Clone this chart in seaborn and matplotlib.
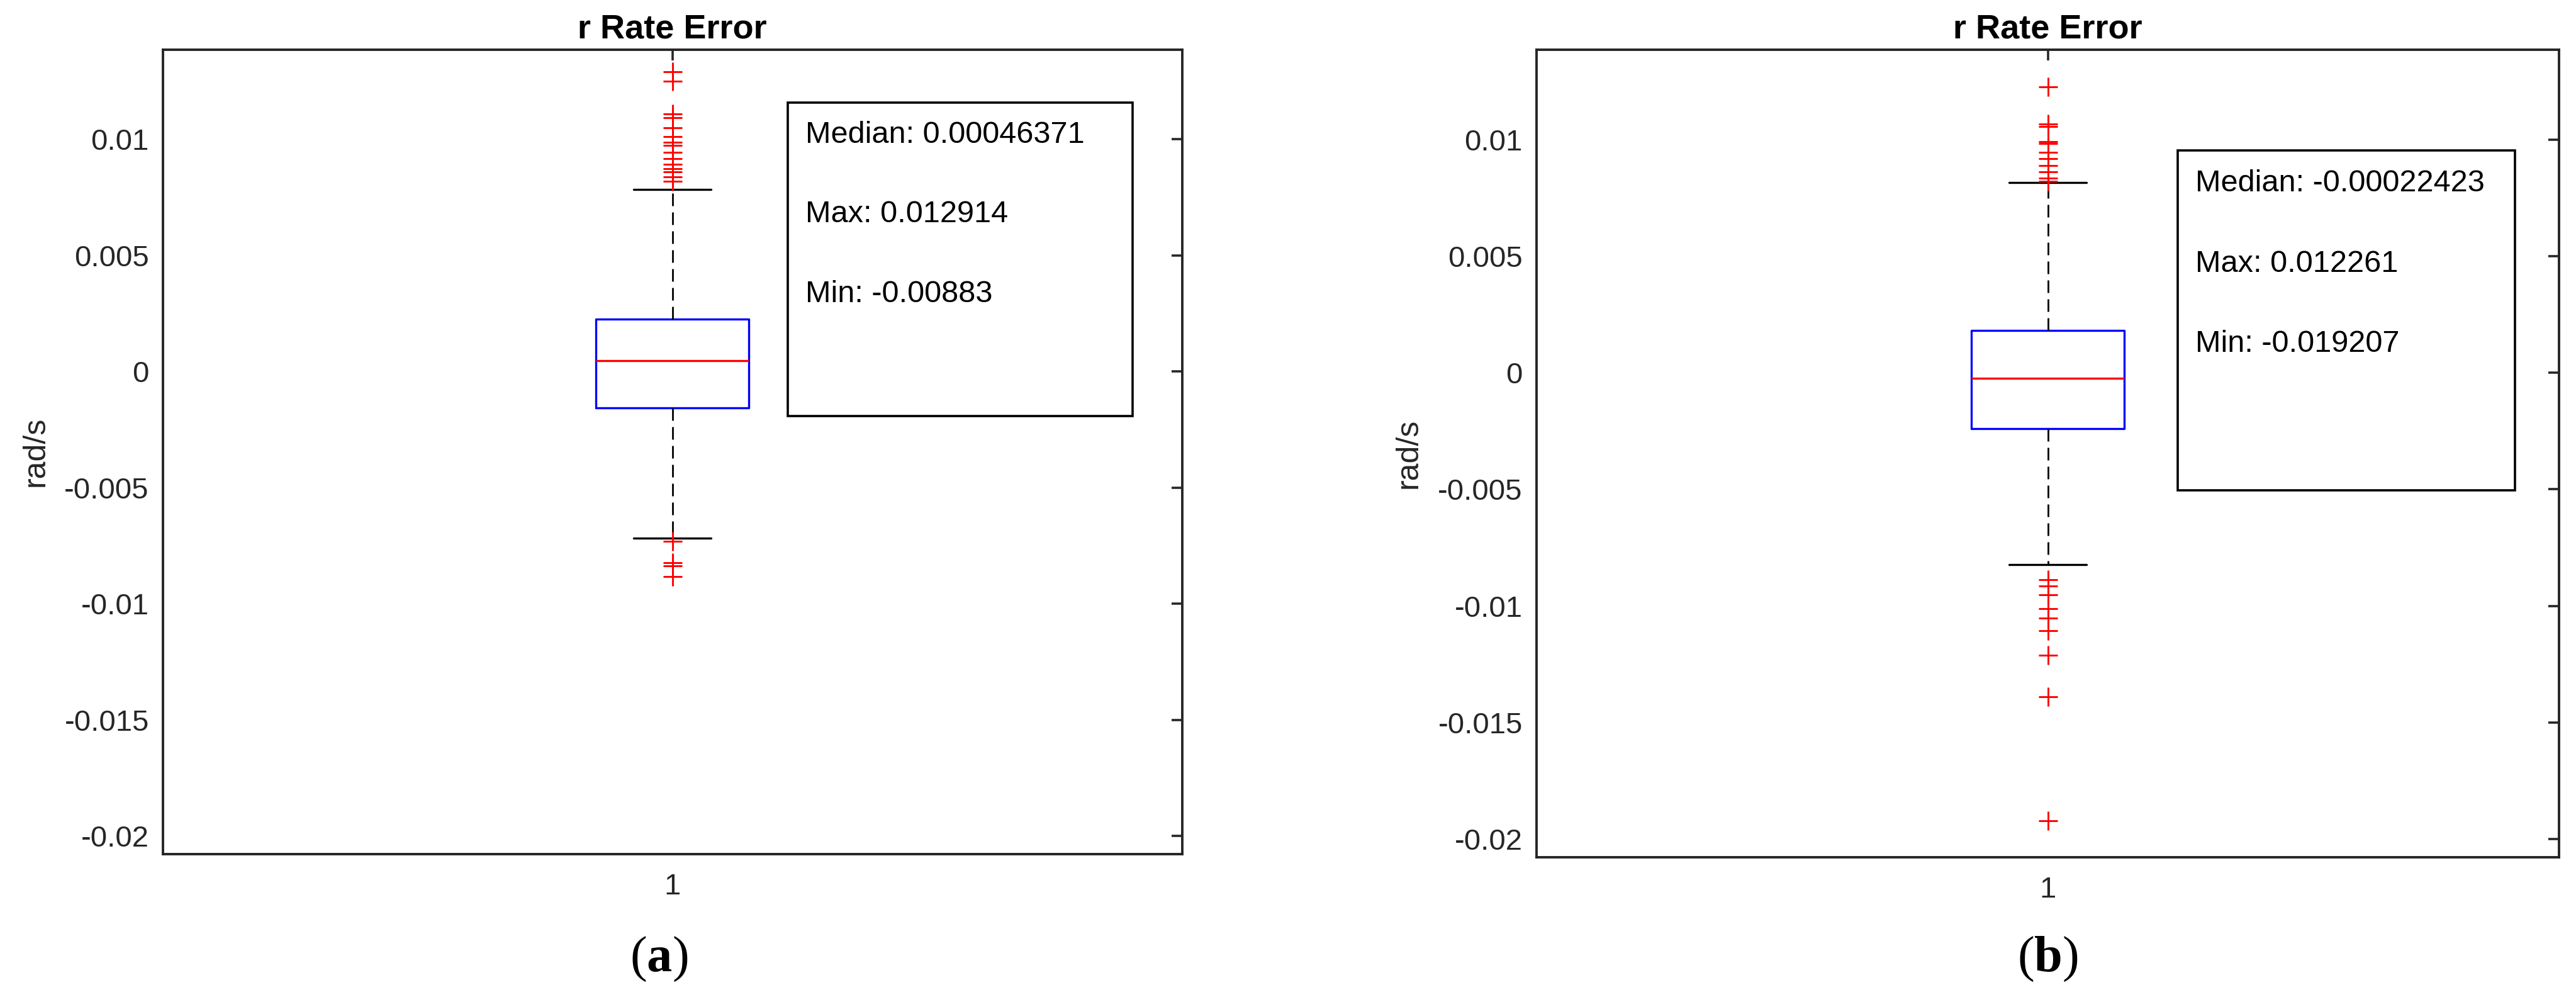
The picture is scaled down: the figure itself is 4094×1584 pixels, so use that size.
import matplotlib
matplotlib.use("Agg")
import matplotlib.pyplot as plt
import seaborn as sns
import numpy as np
from matplotlib.patches import Rectangle

# ---------------- data ----------------
panel_labels = ["a", "b"]
titles = ["r Rate Error", "r Rate Error"]
ylabel_text = "rad/s"
xtick_labels = ["1"]
ytick_values = [-0.02, -0.015, -0.01, -0.005, 0, 0.005, 0.01]
ytick_labels = ["-0.02", "-0.015", "-0.01", "-0.005", "0", "0.005", "0.01"]
ylim = (-0.020772, 0.013854)

medians = [0.00046371, -0.00022423]
q1 = [-0.001563, -0.00240]
q3 = [0.002243, 0.001814]
whisker_low = [-0.007174, -0.008240]
whisker_high = [0.007846, 0.008158]

fliers_a = [0.012914, 0.012508, 0.011080, 0.010927, 0.010502, 0.010105,
            0.009879, 0.009734, 0.009427, 0.009156, 0.008930, 0.008732,
            0.008605, 0.008379, 0.008181,
            -0.007299, -0.008232, -0.008357, -0.00883]
fliers_b = [0.012261, 0.010660, 0.010552, 0.009904, 0.009823, 0.009463,
            0.009175, 0.008887, 0.008608, 0.008338, 0.008221,
            -0.008887, -0.009136, -0.009535, -0.010126, -0.010525,
            -0.011049, -0.012123, -0.013886, -0.019207]
fliers = [fliers_a, fliers_b]

stat_texts = [
    ["Median: 0.00046371", "Max: 0.012914", "Min: -0.00883"],
    ["Median: -0.00022423", "Max: 0.012261", "Min: -0.019207"],
]

# ---------------- style ----------------
sns.set_style("white")
plt.rcParams["font.family"] = ["Liberation Sans", "DejaVu Sans"]
plt.rcParams["axes.unicode_minus"] = False
plt.rcParams["lines.scale_dashes"] = False
plt.rcParams["mathtext.fontset"] = "custom"
plt.rcParams["mathtext.rm"] = "Liberation Serif"
plt.rcParams["mathtext.bf"] = "Liberation Serif:bold"

DPI = 100
W, H = 4094, 1584
fig = plt.figure(figsize=(W / DPI, H / DPI), dpi=DPI)
fig.patch.set_facecolor("white")

# axes rectangles in pixels: (left, top, right, bottom)
ax_px = [(259, 79, 1878.6, 1356.7), (2442, 79, 4067, 1361.7)]
box_px = [(1252, 163, 1800, 661), (3461, 239, 3997, 779)]
text_x_px = [1279.5, 3489]
text_base_px = [[227, 353.4, 480], [304, 431.5, 559]]
label_x_px = [1047, 3254]

axcol = "#262626"

for i in range(2):
    l, t, r, b = ax_px[i]
    ax = fig.add_axes([l / W, 1 - b / H, (r - l) / W, (b - t) / H])
    ax.set_facecolor("white")

    stats = [dict(med=medians[i], q1=q1[i], q3=q3[i],
                  whislo=whisker_low[i], whishi=whisker_high[i], fliers=[])]
    ax.bxp(stats, positions=[1], widths=0.15, showfliers=False,
           capwidths=0.076, manage_ticks=False,
           boxprops=dict(color="blue", lw=2.4),
           medianprops=dict(color="red", lw=2.4),
           whiskerprops=dict(color="black", lw=2.0, linestyle=(0, (14.4, 7.2))),
           capprops=dict(color="black", lw=2.4))

    fl = np.asarray(fliers[i])
    sns.scatterplot(x=np.ones(len(fl)), y=fl, marker="+", color="red",
                    s=497, linewidth=2.1, ax=ax, zorder=5, legend=False)

    ax.set_xlim(0.5, 1.5)
    ax.set_ylim(*ylim)
    ax.set_xticks([1])
    ax.set_xticklabels(xtick_labels)
    ax.set_yticks(ytick_values)
    ax.set_yticklabels(ytick_labels)
    ax.tick_params(axis="both", direction="in", length=12.3, width=2.6,
                   top=True, right=True, labelsize=34, colors=axcol,
                   labelcolor=axcol)
    ax.tick_params(axis="y", pad=16)
    ax.tick_params(axis="x", pad=22)
    for sp in ax.spines.values():
        sp.set_visible(True)
        sp.set_color(axcol)
        sp.set_linewidth(2.8)

    ax.set_xlabel("")
    ax.set_ylabel(ylabel_text, fontsize=36, color=axcol)
    ax.yaxis.set_label_coords(-0.111, 0.5)
    ax.set_title(titles[i], fontsize=39, fontweight="bold", pad=13, color="black")

    # statistics text box
    bl, bt, br, bb = box_px[i]
    aw, ah = r - l, b - t
    rect = Rectangle(((bl - l) / aw, (b - bb) / ah), (br - bl) / aw, (bb - bt) / ah,
                     transform=ax.transAxes, facecolor="white", edgecolor="black",
                     lw=2.6, zorder=6, clip_on=False)
    ax.add_patch(rect)
    for s, yb in zip(stat_texts[i], text_base_px[i]):
        ax.text((text_x_px[i] - l) / aw, (b - yb) / ah, s, transform=ax.transAxes,
                fontsize=35, ha="left", va="baseline", color="black", zorder=7)

    fig.text(label_x_px[i] / W, 41 / H, r"($\mathbf{%s}$)" % panel_labels[i],
             fontsize=58, family="Liberation Serif", ha="center", va="baseline",
             color="black")

fig.savefig("out.png", dpi=DPI, facecolor="white")
